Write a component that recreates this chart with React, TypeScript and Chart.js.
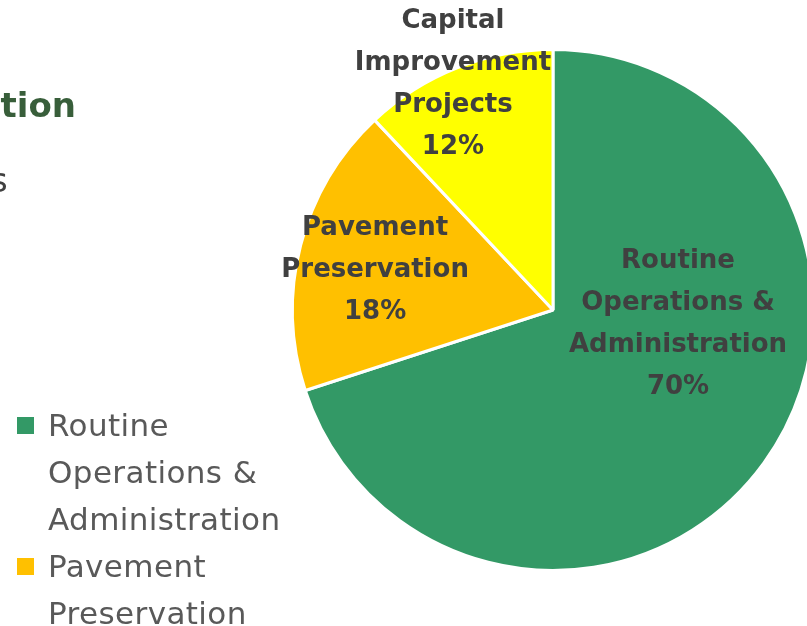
import React, { useEffect, useRef } from "react";
import { Chart, registerables } from "chart.js";

Chart.register(...registerables);

const categories = [
  "Routine Operations & Administration",
  "Pavement Preservation",
  "Capital Improvement Projects",
];
const shares = [70, 18, 12];
const sliceColors = ["#339966", "#FFC000", "#FFFF00"];
const legendCategories = ["Routine Operations & Administration", "Pavement Preservation"];
const legendColors = ["#339966", "#FFC000"];
// label anchor offsets in units of pie radius
const labelOffsets = [
  [0.48, 0.056],
  [-0.683, -0.154],
  [-0.384, -0.866],
];

const LABEL_FONT = 'bold 26px "DejaVu Sans"';

function wrap(ctx: CanvasRenderingContext2D, text: string, maxW: number): string[] {
  const words = text.split(" ");
  const lines: string[] = [];
  let cur = "";
  for (const w of words) {
    const t = cur ? cur + " " + w : w;
    if (ctx.measureText(t).width > maxW && cur) {
      lines.push(cur);
      cur = w;
    } else cur = t;
  }
  if (cur) lines.push(cur);
  return lines;
}

const labelPlugin = {
  id: "sliceLabels",
  afterDraw(chart: any) {
    const ctx: CanvasRenderingContext2D = chart.ctx;
    const meta = chart.getDatasetMeta(0);
    const data = chart.data.datasets[0].data as number[];
    const total = data.reduce((a, b) => a + b, 0);
    ctx.save();
    ctx.font = LABEL_FONT;
    ctx.fillStyle = "#404040";
    ctx.textAlign = "center";
    ctx.textBaseline = "middle";
    meta.data.forEach((arc: any, i: number) => {
      const r = arc.outerRadius;
      const cx = arc.x + labelOffsets[i][0] * r;
      const cy = arc.y + labelOffsets[i][1] * r;
      const lines = wrap(ctx, chart.data.labels[i], 225);
      lines.push(Math.round((data[i] / total) * 100) + "%");
      const lh = 42;
      const start = cy - ((lines.length - 1) * lh) / 2;
      lines.forEach((ln, j) => ctx.fillText(ln, cx, start + j * lh));
    });
    ctx.restore();
  },
};

export default function App() {
  const ref = useRef<HTMLCanvasElement>(null);
  useEffect(() => {
    if (!ref.current) return;
    const chart = new Chart(ref.current, {
      type: "pie",
      data: {
        labels: categories,
        datasets: [
          {
            data: shares,
            backgroundColor: sliceColors,
            borderColor: "#ffffff",
            borderWidth: 3,
          },
        ],
      },
      options: {
        responsive: false,
        animation: false,
        layout: { padding: { left: 291, right: 35, top: 48, bottom: 54 } },
        plugins: { legend: { display: false }, tooltip: { enabled: false } },
      },
      plugins: [labelPlugin],
    });
    return () => chart.destroy();
  }, []);

  return (
    <div
      style={{
        position: "fixed",
        left: 0,
        top: 0,
        width: 807,
        height: 626,
        overflow: "hidden",
        background: "#ffffff",
        fontFamily: '"DejaVu Sans", sans-serif',
      }}
    >
      <canvas
        ref={ref}
        width={850}
        height={626}
        style={{ position: "absolute", left: 0, top: 0, width: 850, height: 626 }}
      />
      <div
        style={{
          position: "absolute",
          left: -124,
          top: 85,
          width: 200,
          textAlign: "right",
          fontSize: 34,
          lineHeight: "40px",
          fontWeight: "bold",
          color: "#385E3A",
          whiteSpace: "nowrap",
        }}
      >
        tion
      </div>
      <div
        style={{
          position: "absolute",
          left: -10,
          top: 160,
          fontSize: 34,
          lineHeight: "40px",
          color: "#404040",
        }}
      >
        s
      </div>
      <div style={{ position: "absolute", left: 17, top: 401.5 }}>
        {legendCategories.map((c, i) => (
          <div key={c} style={{ display: "flex", alignItems: "flex-start" }}>
            <div
              style={{
                width: 17,
                height: 17,
                marginTop: 15,
                background: legendColors[i],
                flex: "0 0 auto",
              }}
            />
            <div
              style={{
                marginLeft: 14,
                width: 245,
                fontSize: 31,
                letterSpacing: "0.4px",
                lineHeight: "47px",
                color: "#595959",
              }}
            >
              {c}
            </div>
          </div>
        ))}
      </div>
    </div>
  );
}
